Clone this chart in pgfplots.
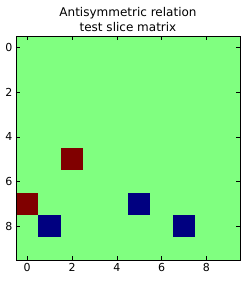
\documentclass[border=0pt]{standalone}
\usepackage{fontspec}
\setmainfont{DejaVu Sans}
\usepackage{pgfplots}
\pgfplotsset{compat=1.18}
\begin{document}
\begin{tikzpicture}[x=1pt,y=1pt]
\useasboundingbox (-16,-21) rectangle (230,260);
\begin{axis}[
  at={(0,0)}, anchor=south west,
  scale only axis, width=224pt, height=224pt,
  xmin=-0.5, xmax=9.5, ymin=-0.5, ymax=9.5,
  y dir=reverse,
  xtick={0,2,4,6,8}, ytick={0,2,4,6,8},
  tick align=inside, major tick length=4pt,
  tick style={black, line width=0.6pt},
  axis line style={black, line width=0.8pt},
  tick label style={font=\fontsize{11}{13}\selectfont},
  /pgf/number format/assume math mode=true,
  title={Antisymmetric relation\\test slice matrix},
  title style={align=center, font=\fontsize{12}{15}\selectfont, yshift=-5pt},
  colormap={cm}{rgb255=(0,0,128) rgb255=(128,255,128) rgb255=(128,0,0)},
  point meta min=-1, point meta max=1,
  axis on top,
]
\addplot[matrix plot*, mesh/cols=10, point meta=explicit, shader=flat corner] table[meta=c] {
x y c
0 0 0
1 0 0
2 0 0
3 0 0
4 0 0
5 0 0
6 0 0
7 0 0
8 0 0
9 0 0
0 1 0
1 1 0
2 1 0
3 1 0
4 1 0
5 1 0
6 1 0
7 1 0
8 1 0
9 1 0
0 2 0
1 2 0
2 2 0
3 2 0
4 2 0
5 2 0
6 2 0
7 2 0
8 2 0
9 2 0
0 3 0
1 3 0
2 3 0
3 3 0
4 3 0
5 3 0
6 3 0
7 3 0
8 3 0
9 3 0
0 4 0
1 4 0
2 4 0
3 4 0
4 4 0
5 4 0
6 4 0
7 4 0
8 4 0
9 4 0
0 5 0
1 5 0
2 5 1
3 5 0
4 5 0
5 5 0
6 5 0
7 5 0
8 5 0
9 5 0
0 6 0
1 6 0
2 6 0
3 6 0
4 6 0
5 6 0
6 6 0
7 6 0
8 6 0
9 6 0
0 7 1
1 7 0
2 7 0
3 7 0
4 7 0
5 7 -1
6 7 0
7 7 0
8 7 0
9 7 0
0 8 0
1 8 -1
2 8 0
3 8 0
4 8 0
5 8 0
6 8 0
7 8 -1
8 8 0
9 8 0
0 9 0
1 9 0
2 9 0
3 9 0
4 9 0
5 9 0
6 9 0
7 9 0
8 9 0
9 9 0
};
\end{axis}
\end{tikzpicture}
\end{document}
